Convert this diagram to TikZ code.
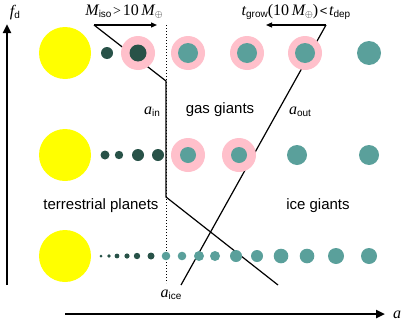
\documentclass[tikz,border=0pt]{standalone}
\usepackage{fontspec}
\setmainfont{Liberation Sans}
\newfontfamily\tms{Liberation Serif}
\usetikzlibrary{arrows.meta}
\definecolor{sunY}{RGB}{255,255,0}
\definecolor{ringP}{RGB}{255,192,203}
\definecolor{tealC}{RGB}{90,160,155}
\definecolor{darkC}{RGB}{40,82,72}
\newcommand{\vv}[2]{{\fontsize{16}{16}\selectfont\tms\itshape #1}\raisebox{-0.35ex}{\fontsize{10}{10}\selectfont #2}}
\begin{document}
\begin{tikzpicture}[x=1pt,y=-1pt,
  axisline/.style={line width=2.4pt},
  thinline/.style={line width=1.2pt},
  lbl/.style={font=\fontsize{15}{15}\selectfont, inner sep=0pt},
  sun/.style={fill=sunY, draw=none},
  ring/.style={fill=ringP, draw=none},
  dk/.style={fill=darkC, draw=none},
  tl/.style={fill=tealC, draw=none}]
\useasboundingbox (0,0) rectangle (403,324);
% axes
\coordinate (vb) at (7,285);
\coordinate (vt) at (7,24);
\coordinate (hl) at (65,314);
\coordinate (hr) at (385,314);
\draw[axisline,-{Triangle[length=9pt,width=8pt]}] (vb) -- (vt);
\draw[axisline,-{Triangle[length=9pt,width=8pt]}] (hl) -- (hr);
\node[inner sep=0pt] (fd) at (15,13) {\vv{f}{d}};
\node[inner sep=0pt] (aa) at (397,315) {{\fontsize{16}{16}\selectfont\tms\itshape a}};
% lines
\coordinate (dtop) at (166,25);
\coordinate (dbot) at (166,283);
\draw[line width=1pt, dotted] (dtop) -- (dbot);
\coordinate (mstart) at (94,25);
\coordinate (mend) at (157,25);
\coordinate (ain1) at (166,81);
\coordinate (ain2) at (166,197);
\coordinate (ain3) at (278,285);
\draw[thinline] (mstart) -- (ain1) -- (ain2) -- (ain3);
\draw[thinline,-{Triangle[length=6pt,width=5pt]}] (mstart) -- (mend);
\coordinate (tstart) at (326,25);
\coordinate (tend) at (266,25);
\coordinate (aoutb) at (181,285);
\draw[thinline] (tstart) -- (aoutb);
\draw[thinline,-{Triangle[length=6pt,width=5pt]}] (tstart) -- (tend);
% labels
\node[inner sep=0pt] (miso) at (124,12) {\vv{M}{iso}\,{\fontsize{14}{14}\selectfont\tms >}\,{\fontsize{16}{16}\selectfont\tms 10\,}\vv{M}{$\oplus$}};
\node[inner sep=0pt] (tgrow) at (296,12) {\vv{t}{grow}{\fontsize{16}{16}\selectfont\tms (10\,}\vv{M}{$\oplus$}{\fontsize{16}{16}\selectfont\tms )}\,{\fontsize{13}{13}\selectfont <}\,\vv{t}{dep}};
\node[inner sep=0pt] (ain) at (152,112) {\vv{a}{in}};
\node[inner sep=0pt] (aout) at (300,112) {\vv{a}{out}};
\node[inner sep=0pt] (aice) at (171,295) {\vv{a}{ice}};
\node[lbl] (gas) at (220,110) {gas giants};
\node[lbl] (ter) at (101,206) {terrestrial planets};
\node[lbl] (ice) at (318,206) {ice giants};
% top row
\fill[sun] (65,53) circle (26);
\fill[dk] (107,53) circle (6);
\foreach \x in {138,188,247,305} { \fill[ring] (\x,53) circle (17); }
\fill[dk] (138,53) circle (8.5);
\foreach \x in {188,247,305} { \fill[tl] (\x,53) circle (10); }
\fill[tl] (369,53) circle (12);
% middle row
\fill[sun] (65,155) circle (26);
\fill[dk] (105,155) circle (4.5);
\fill[dk] (119,155) circle (4.2);
\fill[dk] (138,155) circle (6);
\fill[dk] (158,155) circle (6);
\foreach \x in {188,239} { \fill[ring] (\x,155) circle (17); \fill[tl] (\x,155) circle (8); }
\fill[tl] (297,155) circle (10);
\fill[tl] (369,155) circle (10);
% bottom row
\fill[sun] (65,256) circle (26);
\foreach \x/\r in {101/1.5,109/1.8,117/2.4,127/2.6,137/3.2,151/3.5} { \fill[dk] (\x,256) circle (\r); }
\foreach \x/\r in {166/4.3,182/4.3,199/5,215/5,236/6,257/6,281/7.3,307/7.3,336/8,369/8} { \fill[tl] (\x,256) circle (\r); }
\end{tikzpicture}
\end{document}
